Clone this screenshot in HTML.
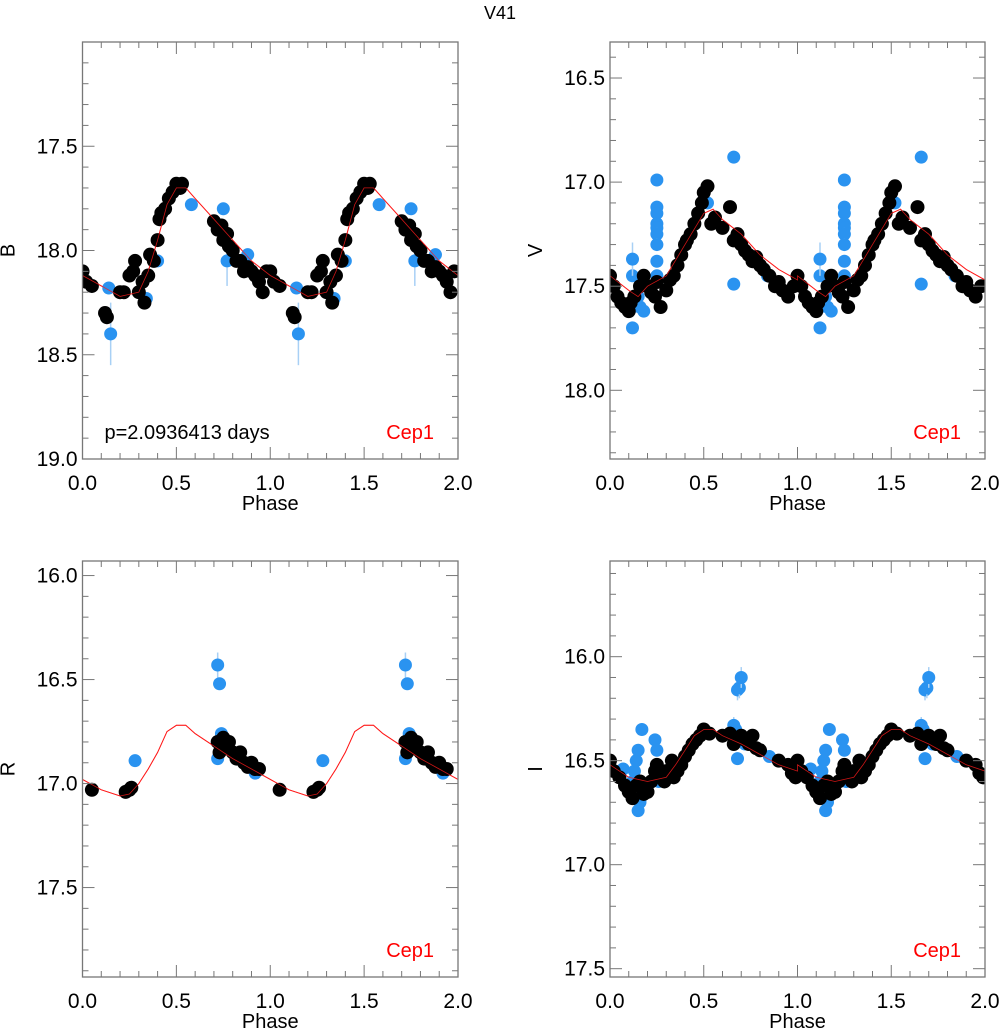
<!DOCTYPE html>
<html><head><meta charset="utf-8"><style>
html,body{margin:0;padding:0;background:#fff}
svg text{font-family:"Liberation Sans",sans-serif}
</style></head><body>
<svg id="fig" width="1000" height="1029" viewBox="0 0 1000 1029" xmlns="http://www.w3.org/2000/svg">
<text x="500" y="19" font-size="18" text-anchor="middle">V41</text>
</svg>
<script>
// ---- data (phase 0-1, repeated at +1) ----
const bBlackPhase=[0.0,0.02,0.05,0.12,0.13,0.2,0.22,0.25,0.27,0.28,0.3,0.32,0.33,0.35,0.36,0.38,0.4,0.41,0.42,0.44,0.46,0.48,0.5,0.52,0.53,0.7,0.72,0.74,0.75,0.77,0.78,0.8,0.82,0.84,0.86,0.88,0.9,0.92,0.94,0.96,0.98];
const bBlackMag=[18.1,18.15,18.17,18.3,18.32,18.2,18.2,18.12,18.1,18.05,18.2,18.15,18.25,18.12,18.02,18.05,17.95,17.85,17.82,17.8,17.75,17.72,17.68,17.7,17.68,17.86,17.9,17.88,17.95,17.92,17.98,18.0,18.05,18.05,18.1,18.08,18.1,18.12,18.15,18.2,18.1];
const bBluePhase=[0.14,0.15,0.34,0.4,0.58,0.75,0.77,0.88];
const bBlueMag=[18.18,18.4,18.23,18.05,17.78,17.8,18.05,18.02];
const bBlueErr=[0.03,0.15,0.03,0.03,0.02,0.03,0.12,0.03];
const bFitPhase=[0,0.1,0.2,0.3,0.35,0.4,0.45,0.5,0.55,0.6,0.7,0.8,0.9,1.0];
const bFitMag=[18.12,18.17,18.22,18.2,18.1,17.95,17.78,17.7,17.7,17.75,17.85,17.95,18.05,18.12];

const vBlackPhase=[0.0,0.02,0.04,0.06,0.08,0.1,0.11,0.13,0.16,0.18,0.2,0.22,0.24,0.25,0.27,0.3,0.32,0.34,0.36,0.38,0.4,0.41,0.43,0.45,0.47,0.49,0.5,0.52,0.54,0.56,0.6,0.64,0.66,0.68,0.7,0.72,0.74,0.76,0.78,0.8,0.82,0.85,0.88,0.9,0.92,0.95,0.98];
const vBlackMag=[17.45,17.5,17.55,17.58,17.6,17.62,17.58,17.55,17.5,17.45,17.5,17.53,17.55,17.48,17.6,17.52,17.47,17.45,17.4,17.35,17.3,17.28,17.25,17.2,17.15,17.1,17.05,17.02,17.2,17.17,17.22,17.12,17.28,17.25,17.3,17.33,17.35,17.38,17.36,17.4,17.42,17.45,17.5,17.48,17.52,17.55,17.5];
const vBluePhase=[0.12,0.12,0.12,0.12,0.15,0.16,0.18,0.25,0.25,0.25,0.25,0.25,0.25,0.25,0.25,0.25,0.66,0.66,0.52,0.84];
const vBlueMag=[17.7,17.6,17.45,17.37,17.55,17.6,17.62,16.99,17.12,17.15,17.2,17.22,17.25,17.3,17.38,17.45,16.88,17.49,17.1,17.45];
const vBlueErr=[0.03,0.03,0.03,0.08,0.03,0.03,0.03,0.03,0.03,0.03,0.03,0.03,0.03,0.03,0.03,0.03,0.03,0.03,0.03,0.03];
const vFitPhase=[0,0.1,0.15,0.2,0.3,0.4,0.5,0.55,0.6,0.7,0.8,0.9,1.0];
const vFitMag=[17.45,17.52,17.55,17.5,17.45,17.3,17.15,17.13,17.18,17.25,17.35,17.42,17.47];

const rBlackPhase=[0.05,0.23,0.25,0.26,0.72,0.73,0.74,0.75,0.76,0.78,0.8,0.82,0.84,0.86,0.88,0.9,0.92,0.94];
const rBlackMag=[17.03,17.04,17.03,17.02,16.8,16.85,16.82,16.78,16.83,16.8,16.85,16.88,16.85,16.9,16.92,16.9,16.93,16.93];
const rBluePhase=[0.28,0.72,0.73,0.74,0.72,0.92];
const rBlueMag=[16.89,16.43,16.52,16.76,16.88,16.95];
const rBlueErr=[0.02,0.06,0.03,0.03,0.03,0.02];
const rFitPhase=[0,0.1,0.2,0.25,0.3,0.35,0.4,0.45,0.5,0.55,0.6,0.7,0.8,0.9,1.0];
const rFitMag=[16.98,17.03,17.06,17.05,17.0,16.93,16.85,16.75,16.72,16.72,16.76,16.82,16.88,16.93,16.98];

const iBlackPhase=[0.0,0.02,0.05,0.08,0.1,0.12,0.14,0.16,0.18,0.2,0.22,0.24,0.25,0.27,0.29,0.3,0.33,0.34,0.36,0.38,0.4,0.42,0.44,0.46,0.48,0.5,0.53,0.6,0.64,0.66,0.7,0.72,0.74,0.76,0.78,0.8,0.9,0.95,0.97,0.99];
const iBlackMag=[16.5,16.55,16.58,16.62,16.65,16.68,16.62,16.6,16.66,16.65,16.6,16.55,16.52,16.58,16.6,16.55,16.5,16.58,16.55,16.52,16.48,16.45,16.42,16.4,16.38,16.35,16.37,16.38,16.37,16.42,16.38,16.4,16.42,16.38,16.44,16.45,16.5,16.52,16.56,16.58];
const iBluePhase=[0.07,0.12,0.13,0.14,0.15,0.16,0.17,0.15,0.24,0.25,0.26,0.66,0.67,0.68,0.69,0.7,0.68,0.72,0.85];
const iBlueMag=[16.54,16.6,16.55,16.5,16.45,16.7,16.35,16.74,16.4,16.45,16.6,16.33,16.35,16.16,16.15,16.1,16.49,16.42,16.48];
const iBlueErr=[0.02,0.03,0.03,0.03,0.03,0.03,0.03,0.03,0.03,0.03,0.03,0.04,0.03,0.05,0.05,0.05,0.03,0.03,0.03];
const iFitPhase=[0,0.1,0.2,0.3,0.35,0.4,0.45,0.5,0.55,0.6,0.7,0.8,0.9,1.0];
const iFitMag=[16.52,16.58,16.6,16.58,16.52,16.45,16.38,16.35,16.35,16.38,16.42,16.47,16.52,16.55];

const NS="http://www.w3.org/2000/svg";
const svg=document.getElementById('fig');
function el(tag,attrs,parent){const e=document.createElementNS(NS,tag);for(const k in attrs)e.setAttribute(k,attrs[k]);(parent||svg).appendChild(e);return e;}

const panels=[
 {key:'b',label:'B',x0:82.5,x1:458,y0:42,y1:459,mTop:17.0,mBot:19.0,ticks:['17.5','18.0','18.5','19.0'],bp:bBlackPhase,bm:bBlackMag,up:bBluePhase,um:bBlueMag,ue:bBlueErr,fp:bFitPhase,fm:bFitMag,period:true},
 {key:'v',label:'V',x0:610,x1:985,y0:42,y1:459,mTop:16.327,mBot:18.33,ticks:['16.5','17.0','17.5','18.0'],bp:vBlackPhase,bm:vBlackMag,up:vBluePhase,um:vBlueMag,ue:vBlueErr,fp:vFitPhase,fm:vFitMag},
 {key:'r',label:'R',x0:82.5,x1:458,y0:561,y1:977,mTop:15.93,mBot:17.93,ticks:['16.0','16.5','17.0','17.5'],bp:rBlackPhase,bm:rBlackMag,up:rBluePhase,um:rBlueMag,ue:rBlueErr,fp:rFitPhase,fm:rFitMag},
 {key:'i',label:'I',x0:610,x1:985,y0:561,y1:977,mTop:15.54,mBot:17.54,ticks:['16.0','16.5','17.0','17.5'],bp:iBlackPhase,bm:iBlackMag,up:iBluePhase,um:iBlueMag,ue:iBlueErr,fp:iFitPhase,fm:iFitMag}
];

panels.forEach(p=>{
 const g=el('g',{});
 
 
 const xs=ph=>p.x0+ph/2*(p.x1-p.x0);
 const ys=m=>p.y0+(m-p.mTop)/(p.mBot-p.mTop)*(p.y1-p.y0);
 const clip='clip-'+p.key;
 const cp=el('clipPath',{id:clip},g);
 el('rect',{x:p.x0,y:p.y0,width:p.x1-p.x0,height:p.y1-p.y0},cp);
 const dg=el('g',{'clip-path':'url(#'+clip+')'},g);
 let d='';
 [0,1].forEach(off=>{p.fp.forEach((ph,i)=>{d+=(d===''?'M':'L')+xs(ph+off).toFixed(1)+','+ys(p.fm[i]).toFixed(1);});});
 const fit=el('path',{d:d,fill:'none',stroke:'#ff1a1a','stroke-width':1},dg);
 
 
 [0,1].forEach(off=>{
  p.up.forEach((ph,i)=>{
   el('line',{x1:xs(ph+off),x2:xs(ph+off),y1:ys(p.um[i]-p.ue[i]),y2:ys(p.um[i]+p.ue[i]),stroke:'#a8d0f5','stroke-width':1.5},dg);
   const c=el('circle',{cx:xs(ph+off),cy:ys(p.um[i]),r:6.5,fill:'#2a93f0'},dg);
   
   
  });
 });
 [0,1].forEach(off=>{
  p.bp.forEach((ph,i)=>{
   const c=el('circle',{cx:xs(ph+off),cy:ys(p.bm[i]),r:7,fill:'#000'},dg);
   
   
  });
 });
 el('path',{d:d,fill:'none',stroke:'#ff1a1a','stroke-width':0.8,opacity:0.8},dg);
 const fr=el('rect',{x:p.x0,y:p.y0,width:p.x1-p.x0,height:p.y1-p.y0,fill:'none',stroke:'#777','stroke-width':1.3},g);
 
 
 for(let k=0;k<=20;k++){
  const x=xs(k*0.1),len=(k%5===0)?12:6;
  el('line',{x1:x,x2:x,y1:p.y1,y2:p.y1-len,stroke:'#777'},g);
  el('line',{x1:x,x2:x,y1:p.y0,y2:p.y0+len,stroke:'#777'},g);
 }
 ['0.0','0.5','1.0','1.5','2.0'].forEach((t,k)=>{
  const tx=el('text',{x:xs(k*0.5),y:p.y1+31,'font-size':21,'text-anchor':'middle'},g);
  tx.textContent=t;
  
  
 });
 const xl=el('text',{x:(p.x0+p.x1)/2,y:p.y1+51,'font-size':20,'text-anchor':'middle'},g);
 xl.textContent='Phase';
 
 
 const start=Math.ceil(p.mTop*10-1e-6);
 for(let k=start;k/10<=p.mBot+1e-6;k++){
  const y=ys(k/10),len=(k%5===0)?12:6;
  el('line',{x1:p.x0,x2:p.x0+len,y1:y,y2:y,stroke:'#777'},g);
  el('line',{x1:p.x1,x2:p.x1-len,y1:y,y2:y,stroke:'#777'},g);
 }
 p.ticks.forEach(t=>{
  const tx=el('text',{x:p.x0-5,y:ys(parseFloat(t))+7,'font-size':21,'text-anchor':'end'},g);
  tx.textContent=t;
  
  
 });
 const lx=p.x0-68;
 const yl=el('text',{x:lx,y:(p.y0+p.y1)/2,'font-size':20,'text-anchor':'middle',transform:'rotate(-90 '+lx+' '+((p.y0+p.y1)/2)+')'},g);
 yl.textContent=p.label;
 
 
 const cep=el('text',{x:p.x1-24,y:p.y1-20,'font-size':20,'text-anchor':'end',fill:'#ff0000'},g);
 cep.textContent='Cep1';
 
 
 if(p.period){
  const pt=el('text',{x:p.x0+22,y:p.y1-20,'font-size':20},g);
  pt.textContent='p=2.0936413 days';
  
  
 }
});
</script>
</body></html>
